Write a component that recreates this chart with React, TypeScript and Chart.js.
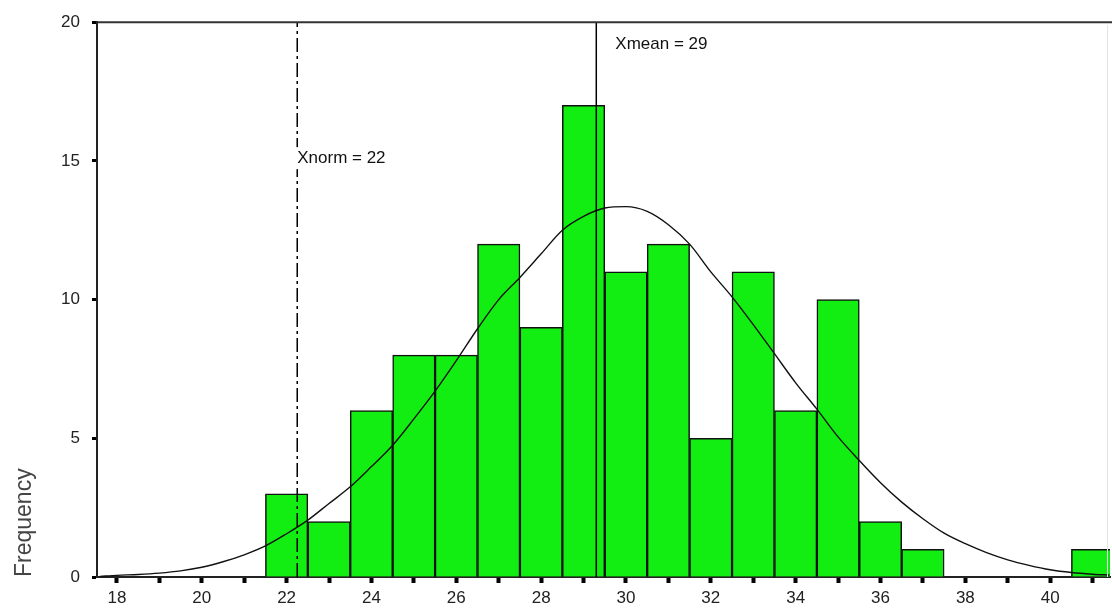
import { useEffect, useRef } from "react";
import { Chart, registerables } from "chart.js";

Chart.register(...registerables);

// ---- data ----
const binCenters = [22, 23, 24, 25, 26, 27, 28, 29, 30, 31, 32, 33, 34, 35, 36, 37, 38, 39, 40, 41];
const frequencies = [3, 2, 6, 8, 8, 12, 9, 17, 11, 12, 5, 11, 6, 10, 2, 1, 0, 0, 0, 1];

const curveX = [
  17.6, 18, 18.5, 19, 19.5, 20, 20.5, 21, 21.5, 22, 22.5, 23, 23.5, 24, 24.5, 25, 25.5, 26, 26.5, 27,
  27.5, 28, 28.5, 29, 29.5, 30, 30.5, 31, 31.5, 32, 32.5, 33, 33.5, 34, 34.5, 35, 35.5, 36, 36.5, 37,
  37.5, 38, 38.5, 39, 39.5, 40, 40.5, 41, 41.4,
];
const curveY = [
  0.02, 0.06, 0.09, 0.14, 0.22, 0.35, 0.55, 0.8, 1.12, 1.56, 2.05, 2.65, 3.25, 3.98, 4.75, 5.7, 6.7, 7.8, 8.95, 10.0,
  10.8, 11.65, 12.5, 13.0, 13.3, 13.35, 13.18, 12.7, 12.0, 11.0, 10.1, 9.1, 8.05, 7.0, 6.05, 5.05, 4.2, 3.4, 2.7, 2.1,
  1.58, 1.2, 0.88, 0.62, 0.42, 0.26, 0.16, 0.1, 0.07,
];

const xTickValues = [18, 19, 20, 21, 22, 23, 24, 25, 26, 27, 28, 29, 30, 31, 32, 33, 34, 35, 36, 37, 38, 39, 40, 41];
const xMin = 17.53;
const xMax = 41.41;
const yMin = 0;
const yMax = 20;
const yStep = 5;

const xMean = 29.3;
const xMeanLabel = "Xmean = 29";
const xMeanLabelY = 19.2;
const xNorm = 22.25;
const xNormLabel = "Xnorm = 22";
const xNormLabelY = 15.1;

const yAxisTitle = "Frequency";

const FONT = "'Liberation Sans', Arial, sans-serif";

const decorPlugin = {
  id: "decor",
  afterDatasetsDraw(chart: any) {
    const { ctx, chartArea, scales } = chart;
    const xs = scales.x;
    const ys = scales.y;
    ctx.save();
    // top frame line
    ctx.strokeStyle = "#333";
    ctx.lineWidth = 2;
    ctx.beginPath();
    ctx.moveTo(chartArea.left, chartArea.top);
    ctx.lineTo(chart.width, chartArea.top);
    ctx.stroke();
    // faint right frame line
    ctx.strokeStyle = "#e4e4e4";
    ctx.lineWidth = 1;
    ctx.beginPath();
    ctx.moveTo(chartArea.right - 2.5, chartArea.top + 3);
    ctx.lineTo(chartArea.right - 2.5, chartArea.bottom);
    ctx.stroke();

    ctx.font = `17px ${FONT}`;
    ctx.textBaseline = "middle";
    ctx.textAlign = "left";
    ctx.fillStyle = "#111";

    // Xmean label
    const mx = xs.getPixelForValue(xMean);
    ctx.fillText(xMeanLabel, mx + 19, ys.getPixelForValue(xMeanLabelY));

    // Xnorm label with white box
    const nx = xs.getPixelForValue(xNorm);
    const ny = ys.getPixelForValue(xNormLabelY);
    const w = ctx.measureText(xNormLabel).width;
    ctx.fillStyle = "#fff";
    ctx.fillRect(nx - 2, ny - 11, w + 4, 22);
    ctx.fillStyle = "#111";
    ctx.fillText(xNormLabel, nx, ny);
    ctx.restore();
  },
};

export default function App() {
  const ref = useRef<HTMLCanvasElement | null>(null);

  useEffect(() => {
    if (!ref.current) return;
    const chart = new Chart(ref.current, {
      type: "bar",
      data: {
        datasets: [
          {
            type: "line",
            label: "Normal",
            data: curveX.map((x, i) => ({ x, y: curveY[i] })),
            borderColor: "#111",
            borderWidth: 1.4,
            pointRadius: 0,
            tension: 0.4,
            cubicInterpolationMode: "monotone",
            fill: false,
            order: 1,
          } as any,
          {
            type: "line",
            label: "Xmean",
            data: [
              { x: xMean, y: yMin },
              { x: xMean, y: yMax },
            ],
            borderColor: "#000",
            borderWidth: 1.5,
            pointRadius: 0,
            order: 0,
          } as any,
          {
            type: "line",
            label: "Xnorm",
            data: [
              { x: xNorm, y: yMin },
              { x: xNorm, y: yMax },
            ],
            borderColor: "#000",
            borderWidth: 1.5,
            borderDash: [14, 4, 3, 4],
            pointRadius: 0,
            order: 0,
          } as any,
          {
            type: "bar",
            label: "Frequency",
            data: binCenters.map((x, i) => ({ x, y: frequencies[i] })),
            backgroundColor: "#12ee12",
            borderColor: "#111",
            borderWidth: 1.5,
            barPercentage: 1,
            categoryPercentage: 1,
            order: 5,
          } as any,
        ],
      },
      options: {
        responsive: false,
        maintainAspectRatio: false,
        animation: false,
        devicePixelRatio: 1,
        layout: { padding: { left: 0, top: 20, right: 2, bottom: 0 } },
        plugins: {
          legend: { display: false },
          tooltip: { enabled: false },
          title: { display: false },
        },
        scales: {
          x: {
            type: "linear",
            min: xMin,
            max: xMax,
            offset: false,
            afterBuildTicks: (axis: any) => {
              axis.ticks = xTickValues.map((v) => ({ value: v }));
            },
            afterFit: (axis: any) => {
              axis.height = 35;
            },
            ticks: {
              autoSkip: false,
              maxRotation: 0,
              minRotation: 0,
              padding: 5,
              color: "#222",
              font: { family: FONT, size: 17 },
              callback: (v: any) => (Number(v) % 2 === 0 ? String(v) : ""),
            },
            grid: {
              drawOnChartArea: false,
              drawTicks: true,
              tickLength: 6,
              tickWidth: 4,
              tickColor: "#000",
              offset: false,
            },
            border: { display: true, color: "#222", width: 2 },
          },
          y: {
            type: "linear",
            min: yMin,
            max: yMax,
            afterFit: (axis: any) => {
              axis.width = 97;
            },
            ticks: {
              stepSize: yStep,
              padding: 12,
              color: "#222",
              font: { family: FONT, size: 17 },
            },
            grid: {
              drawOnChartArea: false,
              drawTicks: true,
              tickLength: 5,
              tickWidth: 3,
              tickColor: "#000",
            },
            border: { display: true, color: "#222", width: 2 },
            title: {
              display: true,
              text: yAxisTitle,
              align: "start",
              color: "#444",
              font: { family: FONT, size: 23 },
              padding: { top: 11, bottom: 0 },
            },
          },
        },
      } as any,
      plugins: [decorPlugin],
    });
    return () => chart.destroy();
  }, []);

  return (
    <div style={{ position: "fixed", left: 0, top: 0, width: 1112, height: 612, background: "#fff" }}>
      <canvas ref={ref} width={1112} height={612} style={{ display: "block" }} />
    </div>
  );
}
